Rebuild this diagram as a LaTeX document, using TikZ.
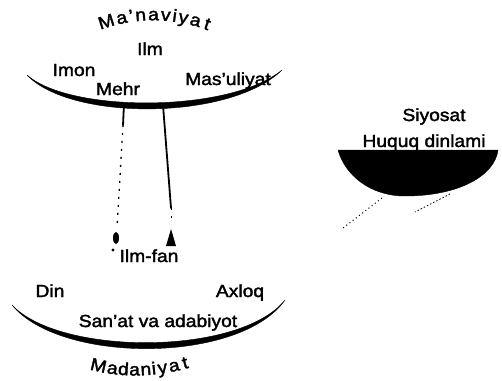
\documentclass[tikz,border=0pt]{standalone}
\usepackage{fontspec}
\setmainfont[FakeStretch=1.1,FakeBold=2]{Liberation Sans}
\newcommand\lblfont{\fontsize{17.5}{20}\selectfont}
\begin{document}
\begin{tikzpicture}[x=1pt,y=-1pt,
  lbl/.style={inner sep=0pt, anchor=base, font=\lblfont},
  ch/.style={inner sep=0pt, anchor=base, sloped, font=\lblfont},
  bowlfill/.style={fill=black, draw=black, line width=0.4pt},
  stem/.style={line width=1.8pt, line cap=round},
  faint/.style={line width=1.3pt, dash pattern=on 2pt off 6pt},
  blob/.style={fill=black}]
\useasboundingbox[fill=white] (0,0) rectangle (502,380);

% ---------- upper bowl (Ma'naviyat) ----------
\fill[bowlfill] (27,75) .. controls (70,113) and (230,113) .. (282,70)
   .. controls (230,121) and (70,121) .. (27,75) -- cycle;
\path (100,30) .. controls (135,17) and (172,17) .. (207,30)
  node[ch,pos=.076] (mn1) {M}
  node[ch,pos=.215] (mn2) {a}
  node[ch,pos=.300] (mn3) {’}
  node[ch,pos=.385] (mn4) {n}
  node[ch,pos=.500] (mn5) {a}
  node[ch,pos=.610] (mn6) {v}
  node[ch,pos=.690] (mn7) {i}
  node[ch,pos=.768] (mn8) {y}
  node[ch,pos=.878] (mn9) {a}
  node[ch,pos=.985] (mn10) {t};
\node[lbl] (ilm)  at (150,55) {Ilm};
\node[lbl] (imon) at (74,76) {Imon};
\node[lbl] (mehr) at (118,95) {Mehr};
\node[lbl] (masul) at (228,85) {Mas'uliyat};

% ---------- connectors between the bowls ----------
\coordinate (L1) at (124,104);
\coordinate (L2) at (123,125);
\coordinate (L3) at (117,228);
\coordinate (R1) at (163,105);
\coordinate (R2) at (171,208);
\coordinate (R3) at (171,224);
\draw[stem] (L1) -- (L2);
\draw[faint] (L2) -- (L3);
\draw[stem] (R1) -- (R2);
\draw[faint, line width=0.8pt] (R2) -- (R3);
\fill[blob] (116,238) ellipse (3pt and 6pt);
\fill[blob] (166,246) -- (171,229) -- (176,246) -- cycle;
\fill[blob] (113,250) circle (1.6pt);

% ---------- lower bowl (Madaniyat) ----------
\node[lbl] (ilmfan) at (149,262) {Ilm-fan};
\node[lbl] (din)   at (50,297) {Din};
\node[lbl] (axloq) at (240,297) {Axloq};
\fill[bowlfill] (12,305) .. controls (60,356) and (240,356) .. (285,300)
   .. controls (240,364) and (60,364) .. (12,305) -- cycle;
\node[lbl] (sanat) at (158,327) {San'at va adabiyot};
\path (92,370) .. controls (122,378) and (156,377) .. (188,368)
  node[ch,pos=.058] (md1) {M}
  node[ch,pos=.214] (md2) {a}
  node[ch,pos=.333] (md3) {d}
  node[ch,pos=.452] (md4) {a}
  node[ch,pos=.571] (md5) {n}
  node[ch,pos=.655] (md6) {i}
  node[ch,pos=.745] (md7) {y}
  node[ch,pos=.868] (md8) {a}
  node[ch,pos=.985] (md9) {t};

% ---------- right bowl (Siyosat) ----------
\fill[bowlfill] (338,150) -- (498,150) .. controls (495,175) and (460,196) .. (405,196)
   .. controls (370,196) and (345,175) .. (338,150) -- cycle;
\node[lbl] (siyosat) at (434,121) {Siyosat};
\node[lbl] (huquq) at (424,147) {Huquq dinlami};
\coordinate (S1) at (450,194);
\coordinate (S2) at (415,212);
\coordinate (S3) at (382,198);
\coordinate (S4) at (343,228);
\draw[line width=0.8pt, dash pattern=on 1.5pt off 2pt] (S1) -- (S2);
\draw[line width=1pt, dash pattern=on 1pt off 3pt] (S3) -- (S4);
\end{tikzpicture}
\end{document}
